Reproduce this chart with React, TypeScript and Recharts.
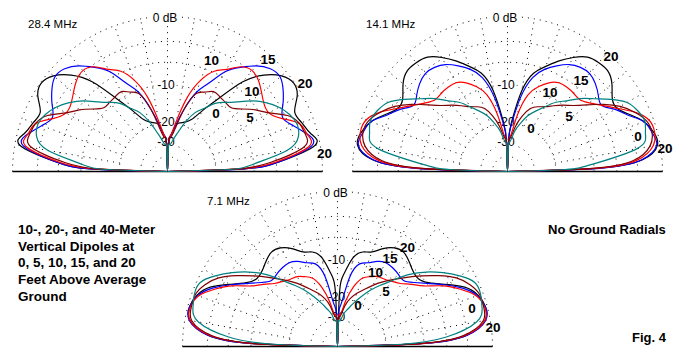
import React from 'react';
import { Scatter, ScatterChart, XAxis, YAxis } from 'recharts';

// elevation angles (deg above the right-hand horizon) where the patterns were read
const elevation = [0, 2, 5, 10, 15, 20, 25, 30, 35, 40, 45, 50, 55, 60, 65, 70, 75, 80, 85, 88, 90];

// dipole heights (ft) and the colour used for each
const heights = ['20', '15', '10', '5', '0'];
const heightColors = ['#000000', '#0000ff', '#ff0000', '#800000', '#008080'];

// relative gain (dB) at each elevation angle, 28.4 MHz
const gain28_20 = [-99, -12, -5.5, -0.6, -0.8, -1.4, -1.7, -0.6, -0.1, -0.7, -2.2, -4.8, -9.5, -13.5, -17, -18.5, -19.3, -20.5, -25, -30, -99];
const gain28_15 = [-99, -12, -5.5, -1, -1.2, -2.5, -3.4, -2.6, -1.6, -0.9, -1.1, -2, -3.4, -5.1, -8, -10.5, -15, -20.5, -25, -30, -99];
const gain28_10 = [-99, -13, -6, -1.3, -1.2, -1.7, -3.6, -4.8, -4.7, -4, -3.2, -2.8, -3.3, -4.7, -5.8, -8, -12, -19, -25, -30, -99];
const gain28_5 = [-99, -14, -7, -2, -1.4, -1.7, -2.7, -4.8, -6.3, -8, -9.3, -9.3, -9.1, -8.9, -9.8, -10.8, -15, -22, -26, -30, -99];
const gain28_0 = [-99, -15, -10, -4.2, -2.3, -2, -2.4, -3.2, -4.4, -5.9, -7.8, -9.3, -10.7, -13, -15, -18.5, -23, -27, -30, -33, -99];

// 14.1 MHz
const gain14_20 = [-99, -9.5, -2.3, -0.3, -0.4, -1.1, -2.4, -3.5, -3.3, -2.2, -1.5, -1.5, -1.8, -2.8, -4.1, -5.6, -7.2, -11, -19, -28, -99];
const gain14_15 = [-99, -9, -2.4, -0.4, -0.6, -1.1, -2.6, -3.8, -5.1, -4.6, -3.8, -3.3, -3.4, -3.9, -4.9, -6.1, -8, -12.4, -20, -28, -99];
const gain14_10 = [-99, -10, -3, -0.8, -0.3, -0.5, -1.7, -3.5, -5.1, -6.4, -7.2, -7.1, -7, -7.1, -7.9, -9.3, -11.5, -17, -25, -30, -99];
const gain14_5 = [-99, -11, -3.5, -1.2, -0.6, -0.8, -1.7, -3, -4.8, -6.9, -8.7, -10, -11.3, -12.5, -13.3, -14.4, -17, -21, -26, -30, -99];
const gain14_0 = [-99, -17, -10, -2.8, -1.4, -1, -1.3, -2, -3.6, -5.4, -7, -8.9, -10.4, -12.5, -14.5, -16.5, -19.5, -23, -28, -32, -99];

// 7.1 MHz
const gain7_20 = [-99, -10, -3, -0.6, -0.2, -0.6, -1.7, -3.8, -5.7, -6.6, -6.4, -5.7, -5.1, -5.3, -6.2, -7.4, -7.9, -9.3, -13, -20, -99];
const gain7_15 = [-99, -10, -3, -0.5, -0.2, -0.7, -2, -3.9, -5.9, -7.6, -8.7, -8.5, -8.2, -8.1, -8.6, -9.5, -10.2, -13.5, -22, -28, -99];
const gain7_10 = [-99, -10.5, -3.2, -0.6, -0.3, -0.8, -2.3, -4.2, -6.6, -8.1, -9.5, -10.3, -10.9, -11.2, -12, -13, -15.8, -21, -27, -30, -99];
const gain7_5 = [-99, -11, -3.5, -0.8, -0.4, -0.4, -1, -2.1, -3.9, -5.9, -7.9, -9.8, -11.6, -13.5, -15.5, -17.3, -19.5, -23, -28, -31, -99];
const gain7_0 = [-99, -15, -6, -1.6, -0.6, -0.3, -0.4, -1.6, -3.2, -5, -7.2, -10, -12.5, -15, -18, -21, -24, -27, -31, -33, -99];

const freqs = ['28.4 MHz', '14.1 MHz', '7.1 MHz'];
const gains = [
  [gain28_20, gain28_15, gain28_10, gain28_5, gain28_0],
  [gain14_20, gain14_15, gain14_10, gain14_5, gain14_0],
  [gain7_20, gain7_15, gain7_10, gain7_5, gain7_0],
];

// grid
const ringDb = [0, -3, -6, -10, -20, -30, -40];
const spokeStep = 10;

// layout
const R = 155;
const W = 2.2 * R;
const H = 1.13 * R;
const panelPos = [
  { cx: 167, base: 171, fx: 28, fy: 28 },
  { cx: 507, base: 171, fx: 366, fy: 28 },
  { cx: 337.5, base: 346, fx: 207, fy: 205 },
];
const curveLabels = [
  [['10', 211.5, 60], ['15', 268, 58.5], ['20', 305, 83], ['10', 252, 90.5], ['0', 216, 113], ['5', 250, 117], ['20', 324.5, 153]],
  [['20', 611, 56], ['15', 581, 80], ['10', 550, 92], ['5', 569, 116], ['0', 531, 128], ['0', 638, 136], ['20', 665, 148]],
  [['20', 407.5, 247], ['15', 390, 258], ['10', 375.5, 271.5], ['5', 386, 291], ['0', 358, 305], ['0', 472, 308], ['20', 493, 327]],
] as [string, number, number][][];
const noteLines = ['10-, 20-, and 40-Meter', 'Vertical Dipoles at', '0, 5, 10, 15, and 20', 'Feet Above Average', 'Ground'];

const FONT = '"Liberation Sans", Arial, sans-serif';

// ARRL log-periodic radial scale: 2 dB per 0.89 of radius
const arrl = (db: number) => Math.pow(0.89, -db / 2);
const polar = (deg: number, r: number) => ({
  x: r * Math.cos((deg * Math.PI) / 180),
  y: r * Math.sin((deg * Math.PI) / 180),
});

// right half 0..90, then the mirrored left half 90..180 (pattern is symmetric)
const patternPoints = (g: number[]) => {
  const right = elevation.map((el, i) => polar(el, arrl(g[i])));
  const left = elevation
    .map((el, i) => polar(180 - el, arrl(g[i])))
    .reverse()
    .slice(1);
  return [...right, ...left];
};

const ringPoints = (db: number) => {
  const pts = [];
  for (let a = 0; a <= 180; a += 2) pts.push(polar(a, arrl(db)));
  return pts;
};

const spokes: number[] = [];
for (let a = spokeStep; a < 180; a += spokeStep) spokes.push(a);

const noShape = () => <g />;

const Frame = ({ cx, base, children }: { cx: number; base: number; children: React.ReactNode }) => (
  <div style={{ position: 'absolute', left: cx - 1.1 * R, top: base - 1.1 * R }}>
    <ScatterChart width={W} height={H} margin={{ top: 0, right: 0, bottom: 0, left: 0 }}>
      <XAxis type="number" dataKey="x" domain={[-1.1, 1.1]} hide allowDataOverflow />
      <YAxis type="number" dataKey="y" domain={[-0.03, 1.1]} hide allowDataOverflow />
      {children}
    </ScatterChart>
  </div>
);

const dotted = { stroke: '#000', strokeWidth: 1, strokeDasharray: '1 5', fill: 'none' };

const GridChart = ({ cx, base }: { cx: number; base: number }) => (
  <Frame cx={cx} base={base}>
    {ringDb.map((db) => (
      <Scatter key={'r' + db} data={ringPoints(db)} line={dotted} shape={noShape} isAnimationActive={false} />
    ))}
    {spokes.map((a) => (
      <Scatter
        key={'s' + a}
        data={[polar(a, arrl(-20)), polar(a, 1)]}
        line={dotted}
        shape={noShape}
        isAnimationActive={false}
      />
    ))}
    <Scatter
      data={[{ x: -1, y: 0 }, { x: 1, y: 0 }]}
      line={{ stroke: '#000', strokeWidth: 1.6, fill: 'none' }}
      shape={noShape}
      isAnimationActive={false}
    />
  </Frame>
);

const PatternChart = ({ cx, base, series }: { cx: number; base: number; series: number[][] }) => (
  <Frame cx={cx} base={base}>
    {series.map((g, i) => (
      <Scatter
        key={heights[i]}
        name={heights[i] + ' ft'}
        data={patternPoints(g)}
        line={{ stroke: heightColors[i], strokeWidth: 1.2, fill: 'none' }}
        lineJointType="natural"
        shape={noShape}
        isAnimationActive={false}
      />
    ))}
  </Frame>
);

const ringLabel = (text: string, x: number, y: number, w: number, key: string) => (
  <g key={key}>
    <rect x={x - w / 2} y={y - 10} width={w} height={12} fill="#fff" />
    <text x={x} y={y} textAnchor="middle" fontSize={12} fontFamily={FONT} fill="#000">
      {text}
    </text>
  </g>
);

export default function App() {
  return (
    <div style={{ position: 'absolute', left: 0, top: 0, width: 680, height: 360, background: '#fff', overflow: 'hidden' }}>
      {panelPos.map((p, i) => (
        <GridChart key={'g' + i} cx={p.cx} base={p.base} />
      ))}
      <svg width={680} height={360} style={{ position: 'absolute', left: 0, top: 0 }}>
        {panelPos.map((p, i) => (
          <g key={'rl' + i}>
            {ringLabel('0 dB', p.cx - 2, p.base - 149.5, 28, 'a')}
            {ringLabel('-10', p.cx - 1, p.base - 82.5, 21, 'b')}
            {ringLabel('-20', p.cx - 1, p.base - 45, 21, 'c')}
            {ringLabel('-30', p.cx - 1, p.base - 25, 21, 'd')}
          </g>
        ))}
      </svg>
      {panelPos.map((p, i) => (
        <PatternChart key={'p' + i} cx={p.cx} base={p.base} series={gains[i]} />
      ))}
      <svg width={680} height={360} style={{ position: 'absolute', left: 0, top: 0 }}>
        {panelPos.map((p, i) => (
          <text key={'f' + i} x={p.fx} y={p.fy} fontSize={11.5} fontFamily={FONT} fill="#000">
            {freqs[i]}
          </text>
        ))}
        {curveLabels.map((list, i) =>
          list.map(([t, x, y], j) => (
            <text key={'c' + i + j} x={x} y={y + 5} textAnchor="middle" fontSize={13.5} fontWeight="bold" fontFamily={FONT} fill="#000">
              {t}
            </text>
          ))
        )}
        {noteLines.map((t, i) => (
          <text key={'n' + i} x={18} y={234 + i * 16.7} fontSize={13.5} fontWeight="bold" fontFamily={FONT} fill="#000">
            {t}
          </text>
        ))}
        <text x={548} y={234} fontSize={13} fontWeight="bold" fontFamily={FONT} fill="#000">
          No Ground Radials
        </text>
        <text x={632} y={342} fontSize={13} fontWeight="bold" fontFamily={FONT} fill="#000">
          Fig. 4
        </text>
      </svg>
    </div>
  );
}
